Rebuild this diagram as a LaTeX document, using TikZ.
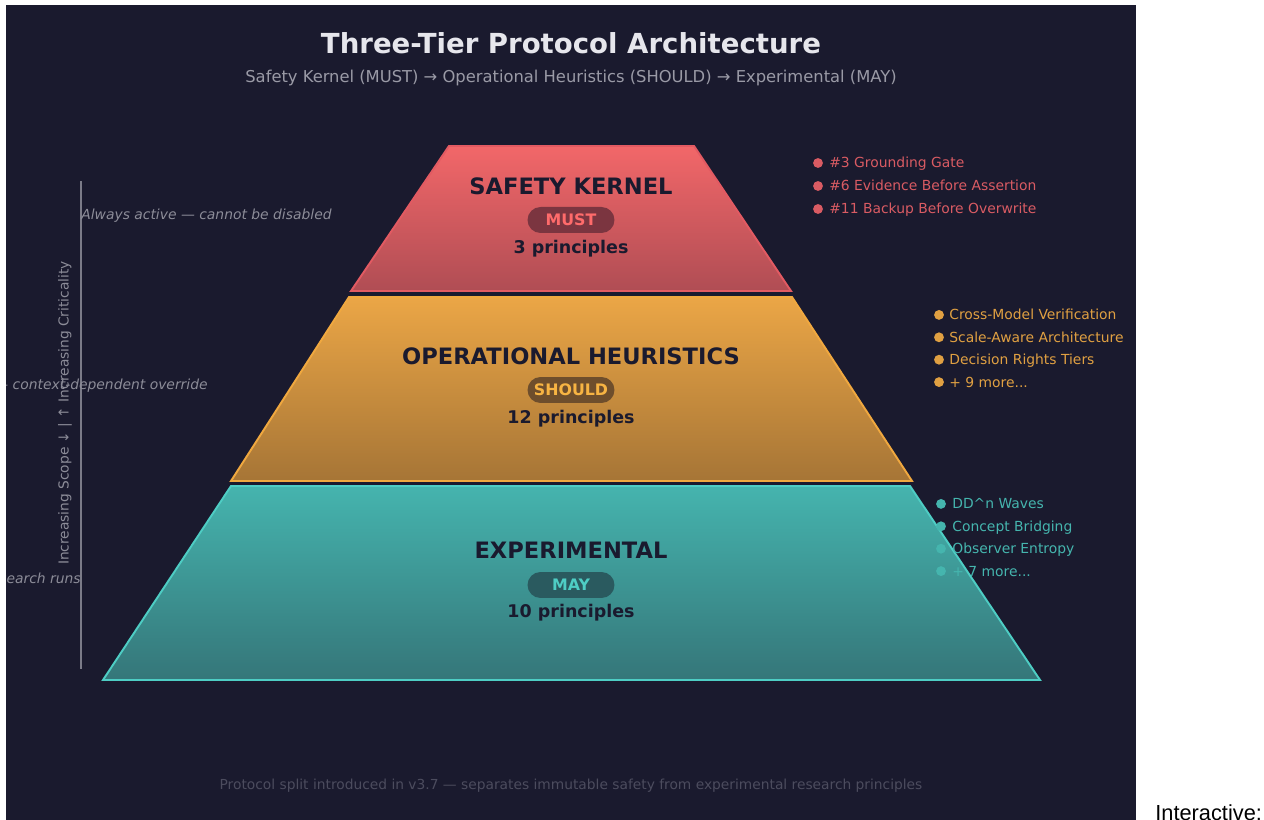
\documentclass[tikz,border=0pt]{standalone}
\usepackage{fontspec}
\setmainfont{DejaVu Sans}
\newfontfamily\pagefont{Liberation Sans}

\definecolor{bgdark}{HTML}{1A1A2E}
\definecolor{titlewhite}{HTML}{E6E6EC}
\definecolor{subgray}{HTML}{9A9AA6}
\definecolor{footgray}{HTML}{4C4C5E}
\definecolor{sidegray}{HTML}{8C8C98}
\definecolor{kernelred}{HTML}{D95B63}
\definecolor{heurorange}{HTML}{E0A042}
\definecolor{expteal}{HTML}{45B5AE}

\newcommand{\threedots}{...}

\begin{document}
\begin{tikzpicture}[
    x=0.02cm, y=-0.02cm,
    tiertitle/.style={
        inner sep=0pt,
        text=bgdark,
        font=\bfseries\fontsize{12.85}{14}\selectfont
    },
    pill/.style={
        rectangle,
        rounded corners=0.26cm,
        minimum width=1.74cm,
        minimum height=0.52cm,
        inner sep=0pt,
        font=\bfseries\fontsize{9}{10}\selectfont
    },
    count/.style={
        inner sep=0pt,
        text=bgdark,
        font=\bfseries\fontsize{9.95}{11}\selectfont
    },
    listtext/.style={
        anchor=base west,
        inner sep=0pt,
        font=\fontsize{7.9}{9}\selectfont
    },
    sidenote/.style={
        inner sep=0pt,
        text=sidegray,
        font=\itshape\fontsize{7.9}{9}\selectfont
    },
]

\useasboundingbox (0,0) rectangle (1264,820);

% === BACKGROUND ===
\fill[bgdark] (6,5) rectangle (1136,820);

% Title
\node[inner sep=0pt, text=titlewhite, font=\bfseries\fontsize{15.7}{17}\selectfont]
    (title) at (571,43) {Three-Tier Protocol Architecture};
\node[inner sep=0pt, text=subgray, font=\fontsize{9.3}{11}\selectfont]
    (subtitle) at (571,78) {Safety Kernel (MUST) → Operational Heuristics (SHOULD) → Experimental (MAY)};

% === PYRAMID (tiers) ===
\draw[line width=1.1pt, top color={rgb,255:red,242;green,103;blue,105},
      bottom color={rgb,255:red,176;green,77;blue,84}, draw={rgb,255:red,226;green,90;blue,98}]
    (449,146) -- (694,146) -- (791,291) -- (351,291) -- cycle;
\draw[line width=1.1pt, top color={rgb,255:red,235;green,166;blue,70},
      bottom color={rgb,255:red,166;green,117;blue,54}, draw={rgb,255:red,240;green,168;blue,63}]
    (349,297) -- (792,297) -- (912,481) -- (231,481) -- cycle;
\draw[line width=1.1pt, top color={rgb,255:red,69;green,180;blue,174},
      bottom color={rgb,255:red,53;green,118;blue,121}, draw={rgb,255:red,78;green,205;blue,196}]
    (231,486) -- (910,486) -- (1040,680) -- (103,680) -- cycle;

% Safety kernel
\node[tiertitle] (kernel) at (571,186) {SAFETY KERNEL};
\node[pill, fill={rgb,255:red,123;green,53;blue,64}, text={rgb,255:red,255;green,107;blue,107}]
    (must) at (571,220) {MUST};
\node[count] (kernelcount) at (571,249) {3 principles};

% Operational heuristics
\node[tiertitle] (heur) at (571,356) {OPERATIONAL HEURISTICS};
\node[pill, fill={rgb,255:red,110;green,78;blue,44}, text={rgb,255:red,247;green,180;blue,67}]
    (should) at (571,390) {SHOULD};
\node[count] (heurcount) at (571,419) {12 principles};

% Experimental
\node[tiertitle] (exp) at (571,550) {EXPERIMENTAL};
\node[pill, fill={rgb,255:red,42;green,90;blue,95}, text={rgb,255:red,78;green,205;blue,196}]
    (may) at (571,585) {MAY};
\node[count] (expcount) at (571,613) {10 principles};

% === PRINCIPLE LISTS ===
\foreach \txt [count=\i] in {{\#3 Grounding Gate}, {\#6 Evidence Before Assertion},
                             {\#11 Backup Before Overwrite}} {
    \fill[kernelred] (818,140+23*\i) circle (2.8pt);
    \node[listtext, text=kernelred] (kerItem\i) at (829,145+23*\i) {\txt};
}
\foreach \txt [count=\i] in {{Cross-Model Verification}, {Scale-Aware Architecture},
                             {Decision Rights Tiers}, {+ 9 more\threedots}} {
    \fill[heurorange] (939,292.5+22.4*\i) circle (2.8pt);
    \node[listtext, text=heurorange] (heurItem\i) at (949,297.5+22.4*\i) {\txt};
}
\foreach \txt [count=\i] in {{DD\textasciicircum n Waves}, {Concept Bridging},
                             {Observer Entropy}, {+ 7 more\threedots}} {
    \fill[expteal] (941,481.5+22.4*\i) circle (2.8pt);
    \node[listtext, text=expteal] (expItem\i) at (952,486.5+22.4*\i) {\txt};
}

% === SIDE AXIS ===
\coordinate (axTop) at (81,181);
\coordinate (axBot) at (81,669);
\draw[sidegray!85!bgdark, line width=0.8pt] (axTop) -- (axBot);
\node[inner sep=0pt, rotate=90, text=sidegray, font=\fontsize{7.84}{9}\selectfont]
    (axis) at (65,413) {Increasing Scope ↓ | ↑ Increasing Criticality};

\begin{scope}
\clip (6,5) rectangle (1136,820);
\node[sidenote, anchor=west] (noteKernel) at (81,216) {Always active — cannot be disabled};
\node[sidenote, anchor=east] (noteHeur) at (208,386) {— context-dependent override};
\node[sidenote, anchor=east] (noteExp) at (81,578) {search runs};
\end{scope}

% Footer
\node[inner sep=0pt, text=footgray, font=\fontsize{7.85}{10}\selectfont]
    (footer) at (571,786) {Protocol split introduced in v3.7 — separates immutable safety from experimental research principles};

\node[inner sep=0pt, anchor=base west, font=\pagefont\fontsize{12.4}{14}\selectfont]
    (interactive) at (1155,820) {Interactive:};

\end{tikzpicture}
\end{document}
